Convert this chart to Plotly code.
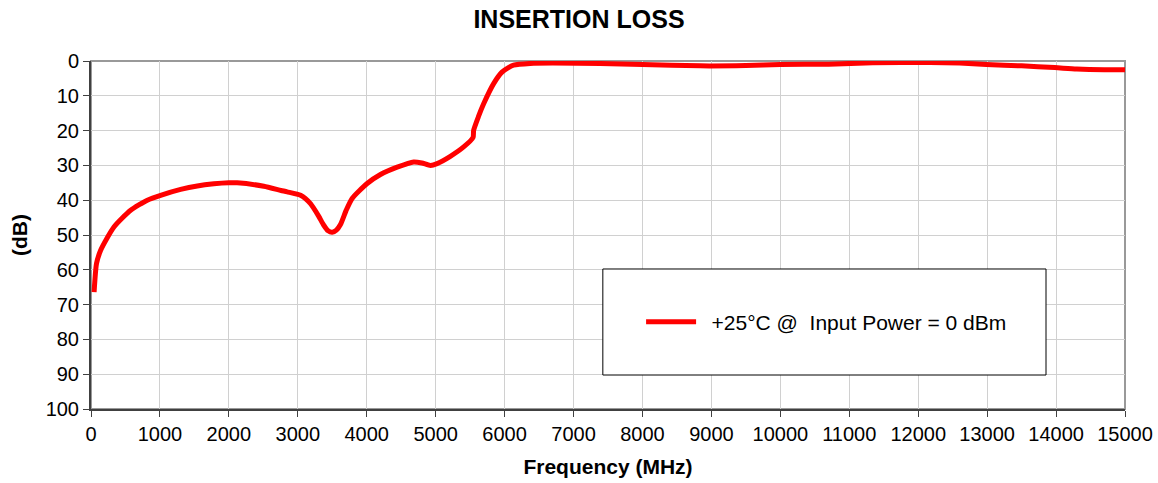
import plotly.graph_objects as go

freq_mhz = [45, 80, 140, 230, 333, 450, 575, 700, 817, 1010, 1300, 1542, 1783, 2000, 2120,
            2507, 2757, 2846, 3040, 3184, 3300, 3377, 3440, 3499, 3560, 3619, 3700, 3788,
            4006, 4199, 4441, 4681, 4800, 4923, 5020, 5213, 5406, 5542, 5551, 5620, 5696,
            5841, 5962, 6050, 6130, 6372, 6700, 7387, 8000, 8840, 9500, 10000, 10700, 11340,
            12170, 12600, 12990, 13500, 13980, 14300, 14700, 15000]
loss_db = [66.4, 58.2, 54.4, 51.0, 47.7, 45.2, 42.9, 41.3, 40.0, 38.6, 36.9, 35.9, 35.3,
           35.0, 35.0, 36.0, 37.2, 37.6, 38.6, 41.0, 44.5, 47.2, 48.8, 49.2, 48.6, 47.0,
           43.0, 39.5, 35.2, 32.6, 30.5, 29.0, 29.3, 30.0, 29.5, 27.4, 24.7, 22.0, 19.9,
           16.0, 12.3, 6.5, 3.2, 2.0, 1.2, 0.7, 0.6, 0.75, 1.0, 1.4, 1.3, 1.0, 0.9, 0.5,
           0.4, 0.6, 1.0, 1.4, 1.9, 2.3, 2.5, 2.5]

series_name = "\u2002+25°C @\u00a0 Input Power = 0 dBm"
x_ticks = list(range(0, 15001, 1000))
y_ticks = list(range(0, 101, 10))

FONT = "Liberation Sans, Arial, sans-serif"

fig = go.Figure()
fig.add_trace(go.Scatter(
    x=freq_mhz, y=loss_db, mode="lines", name=series_name,
    line=dict(color="#FF0000", width=5, shape="spline", smoothing=0.6),
))

fig.update_layout(
    width=1158, height=483,
    margin=dict(l=91, r=33, t=61, b=74),
    paper_bgcolor="white", plot_bgcolor="white",
    font=dict(family=FONT, size=20, color="black"),
    title=dict(text="<b>INSERTION LOSS</b>", x=0.5, xanchor="center", y=0.9607, yanchor="middle",
               font=dict(family=FONT, size=25, color="black")),
    showlegend=True,
    legend=dict(x=0.532, y=0.25, xanchor="left", yanchor="middle",
                bgcolor="rgba(0,0,0,0)", borderwidth=0, itemwidth=50,
                font=dict(family=FONT, size=21, color="black")),
    shapes=[
        dict(type="rect", xref="paper", yref="paper", x0=0, x1=1, y0=0, y1=1,
             line=dict(color="#999999", width=2), layer="below"),
        dict(type="rect", xref="paper", yref="paper", x0=0.495, x1=0.9236, y0=0.0977, y1=0.4023,
             line=dict(color="black", width=1), fillcolor="white", layer="above"),
    ],
)

fig.update_xaxes(
    range=[0, 15000], tickvals=x_ticks, ticktext=[str(v) for v in x_ticks],
    showgrid=True, gridcolor="#D0D0D0", gridwidth=1,
    showline=True, linecolor="#404040", linewidth=2,
    ticks="outside", ticklen=6, tickcolor="#404040", tickwidth=1,
    zeroline=False, automargin=False,
    title=dict(text="<b>Frequency (MHz)</b>", font=dict(family=FONT, size=21), standoff=15),
    tickfont=dict(family=FONT, size=20),
)
fig.update_yaxes(
    range=[100, 0], tickvals=y_ticks, ticktext=[str(v) for v in y_ticks],
    showgrid=True, gridcolor="#D0D0D0", gridwidth=1,
    showline=True, linecolor="#404040", linewidth=2,
    ticks="outside", ticklen=6, tickcolor="#404040", tickwidth=1,
    zeroline=False, automargin=False,
    title=dict(text="<b>(dB)</b>", font=dict(family=FONT, size=21), standoff=12),
    tickfont=dict(family=FONT, size=20),
)

fig.write_html("out.html", config={"displayModeBar": False},
               post_script="document.body.style.margin='0px';")
